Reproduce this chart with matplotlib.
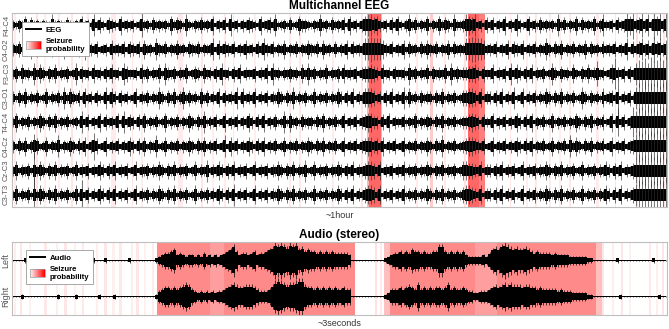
import numpy as np
import matplotlib
matplotlib.use("Agg")
import matplotlib.pyplot as plt
from matplotlib.colors import LinearSegmentedColormap
from matplotlib.patches import Rectangle, Patch
from matplotlib.lines import Line2D
from matplotlib.legend_handler import HandlerBase

plt.rcParams['font.family'] = ['Liberation Sans', 'DejaVu Sans']

# ---------------- data ----------------
eeg_channels = ["F4-C4", "C4-O2", "F3-C3", "C3-O1", "T4-C4", "C4-Cz", "Cz-C3", "C3-T3"]
eeg_minutes = 60.0
# per-cycle amplitude (base-36 digits), ~3 px per char
eeg_amp = [
    ("3243625342" "4327343253" "2436342735" "3254326343" "4238342534"
     "3426354273" "2435343624" "3527342435" "4326345372" "3425236443"
     "2437342534" "3526342467" "7564342536" "3247352436" "2436354273"
     "3476573425" "3524362437" "4236342534" "3427352436" "2534362473"
     "3425348694" "5847396948"),
    ("4352436253" "3425343624" "4353724352" "3426343525" "4352634274"
     "3524363425" "4352434726" "3543524363" "4253743524" "3624352436"
     "4352634252" "4362534377" "8777643524" "3625342536" "4352436253"
     "4377887763" "4352436254" "3624352437" "4253624352" "4362534253"
     "4352437253" "5746385746"),
    ("3526342736" "4253624352" "3725342634" "2536342753" "3426352436"
     "2743524362" "3542634253" "7342536243" "3524362734" "2435342637"
     "3524362435" "2634352455" "6542634253" "3427352436" "2534362735"
     "3445564253" "3624352736" "4253624352" "3742534263" "2536348342"
     "36a4352537" "98a7b89a9b"),
    ("4253624352" "3624352736" "4352634253" "2736425342" "3624352437"
     "4253624735" "3426352436" "2534372634" "3624352436" "4253724352"
     "3624352436" "4253624366" "6534253624" "3726342534" "4253624352"
     "3556653624" "4253624372" "3624352436" "4253624352" "3742534263"
     "453k243527" "a8b9a9b8ab"),
    ("3624352436" "4253624352" "3427352436" "2534362735" "4253624352"
     "3624352436" "4253724352" "3624352436" "4253624352" "3726342534"
     "4253624352" "3624352456" "6442536243" "3524362435" "4253624352"
     "3445654253" "3624352436" "4253624352" "3624352436" "4253624352"
     "36293524a7" "9a8b9a8ba9"),
    ("4253624852" "3624372436" "4253624952" "3624352436" "4253624372"
     "3624352436" "4253624352" "3726352436" "4253624352" "3624352436"
     "4253624352" "3624352456" "6453624352" "3624352436" "4253724352"
     "3456654352" "3624352436" "4253624352" "3624352736" "4253624352"
     "3624352458" "a9b8a9ba8b"),
    ("3624352c36" "4253624352" "3624352436" "4253624352" "3624352436"
     "4253624352" "3624372436" "4253624352" "3624352436" "4253624372"
     "3624352436" "4253624356" "6536243524" "3624352436" "4253624352"
     "3665543624" "4253624352" "3624352436" "4253624352" "3624352436"
     "4253624358" "b9a8b9a9b8"),
    ("3624352c36" "4253624352" "362a352436" "4253624352" "3624352436"
     "4253624352" "3624352436" "4253724352" "3624352436" "4253624352"
     "3624352436" "4253624356" "6536243524" "3624352436" "4253624352"
     "3566543624" "4253624352" "3624352436" "4253624352" "3624352436"
     "4253624357" "a9b8a9ba9b"),
]
# seizure probability segments (minutes)
eeg_prob_start = [0.2, 2.2, 2.95, 4.25, 5.45, 6.35, 6.9, 9.1, 10.95, 11.85, 15.25, 17.35, 18.35,
                  19.45, 20.2, 22.2, 25.4, 26.3, 29.35, 32.0, 32.55, 32.7, 33.8, 37.0, 38.3,
                  39.6, 41.45, 41.8, 42.8, 44.4, 45.6, 47.1, 47.9, 49.2, 50.15, 51.05, 53.5,
                  55.2, 57.2, 58.7, 59.6]
eeg_prob_end = [0.35, 2.4, 3.1, 4.4, 5.6, 6.5, 7.05, 9.5, 11.1, 12.0, 15.65, 17.5, 18.5,
                19.6, 20.35, 22.35, 25.55, 26.45, 29.5, 32.15, 32.7, 33.8, 33.9, 37.15, 38.6,
                39.75, 41.6, 42.8, 43.3, 44.55, 45.75, 47.3, 48.05, 49.35, 50.3, 51.2, 53.8,
                55.35, 57.35, 58.85, 59.8]
eeg_prob_val = [0.08, 0.1, 0.07, 0.08, 0.1, 0.06, 0.09, 0.08, 0.1, 0.07, 0.08, 0.1, 0.07,
                0.08, 0.1, 0.07, 0.08, 0.09, 0.08, 0.1, 0.3, 0.6, 0.3, 0.08, 0.2,
                0.08, 0.12, 0.6, 0.5, 0.08, 0.1, 0.07, 0.09, 0.08, 0.07, 0.09, 0.08,
                0.1, 0.12, 0.08, 0.1]

audio_channels = ["Left", "Right"]
audio_seconds = 3.0
audio_amp = [
    ("0000100000" "0001000010" "0000000100" "0100000001" "0000000012"
     "3445634323" "3232423232" "3456853443" "4534456798" "9879896756"
     "5545454544" "4443000000" "0000012344" "5454655454" "4558854545"
     "4532222232" "4676898767" "6676545444" "4343333222" "2221100000"
     "0001000000" "0000010000"),
    ("0001000000" "0000010000" "0100000001" "0000100000" "0000000013"
     "4554545676" "4323232323" "3456765566" "6543334689" "8767789965"
     "5454545454" "4544000000" "0000012444" "5456547454" "5455457454"
     "4543322333" "4565676766" "6566554544" "4443433322" "2221100000"
     "0000100000" "0000000100"),
]
audio_prob_start = [0.01, 0.035, 0.078, 0.145, 0.2, 0.238, 0.284, 0.32, 0.384, 0.42, 0.458,
                    0.49, 0.545, 0.568, 0.604, 0.64, 0.664, 0.907, 1.662, 1.686, 1.704,
                    1.731, 2.121, 2.675, 2.704, 2.746, 2.79, 2.826, 2.918, 2.95, 2.977]
audio_prob_end = [0.02, 0.045, 0.088, 0.16, 0.212, 0.25, 0.295, 0.332, 0.396, 0.434, 0.47,
                  0.502, 0.556, 0.58, 0.616, 0.652, 1.571, 0.971, 1.674, 1.694, 1.731,
                  2.675, 2.221, 2.702, 2.712, 2.756, 2.8, 2.836, 2.926, 2.96, 2.986]
audio_prob_val = [0.07, 0.1, 0.06, 0.09, 0.07, 0.1, 0.06, 0.09, 0.07, 0.1, 0.06,
                  0.09, 0.07, 0.1, 0.06, 0.08, 0.46, 0.38, 0.12, 0.08, 0.25,
                  0.46, 0.38, 0.25, 0.1, 0.07, 0.1, 0.06, 0.09, 0.07, 0.1]

# ---------------- helpers ----------------
cmap = LinearSegmentedColormap.from_list("wr", ["white", "red"])


def draw_trace(ax, s, T, center, scale, floor, core_frac, cap, lw, spike_color):
    a = np.array([int(c, 36) for c in s], dtype=float) * scale + floor
    n = len(a)
    t = (np.arange(n) + 0.5) / n * T
    core = core_frac * np.minimum(a, cap * np.median(a))
    ax.fill_between(t, center - core, center + core,
                    step='mid', color='black', lw=0, zorder=2)
    ax.vlines(t, center - a, center + a, color=spike_color, lw=lw, zorder=2)


class GradientHandler(HandlerBase):
    def create_artists(self, legend, orig_handle, xdescent, ydescent,
                       width, height, fontsize, trans):
        n = 24
        arts = []
        for i in range(n):
            r = Rectangle((-xdescent + i * width / n, -ydescent), width / n + 0.05, height,
                          facecolor=cmap(i / (n - 1)), edgecolor='none', transform=trans)
            arts.append(r)
        arts.append(Rectangle((-xdescent, -ydescent), width, height, fill=False,
                              edgecolor='#999999', linewidth=0.5, transform=trans))
        return arts


def style_axes(ax, fs):
    for sp in ax.spines.values():
        sp.set_color('#bfbfbf')
        sp.set_linewidth(0.8)
    ax.tick_params(axis='both', length=0, labelsize=fs, labelcolor='#555555', pad=1.5)
    ax.set_xticks([])


def add_legend(ax, label, anchor):
    grad = Patch()
    h = [Line2D([], [], color='black', lw=1.4), grad]
    leg = ax.legend(h, [label, "Seizure\nprobability"], handler_map={grad: GradientHandler()},
                    loc='upper left', bbox_to_anchor=anchor, borderaxespad=0,
                    prop={'size': 5.6, 'weight': 'bold'}, handlelength=2.0, handleheight=1.3,
                    labelspacing=0.45, borderpad=0.45, handletextpad=0.6,
                    fancybox=False, framealpha=1, edgecolor='#9a9a9a')
    leg.get_frame().set_linewidth(0.6)
    leg.set_zorder(10)


# ---------------- figure ----------------
W, H = 669, 329
fig = plt.figure(figsize=(W / 100, H / 100), dpi=100)
ax1 = fig.add_axes([12 / W, 1 - 207 / H, 655 / W, 194 / H])
ax2 = fig.add_axes([12 / W, 1 - 315 / H, 655 / W, 73 / H])

# EEG
nch = len(eeg_channels)
for s0, s1, v in zip(eeg_prob_start, eeg_prob_end, eeg_prob_val):
    ax1.axvspan(s0, s1, color=cmap(v), lw=0, zorder=0)
for i, s in enumerate(eeg_amp):
    draw_trace(ax1, s, eeg_minutes, nch - 0.5 - i, 0.06, 0.03, 0.62, 1.5, 0.45, '#2a2a2a')
ax1.set_xlim(0, eeg_minutes)
ax1.set_ylim(0, nch)
ax1.set_yticks([nch - 0.5 - i for i in range(nch)])
ax1.set_yticklabels(eeg_channels, rotation=90, va='center')
style_axes(ax1, 5.5)
ax1.set_title("Multichannel EEG", fontsize=8.5, fontweight='bold', pad=3)
ax1.set_xlabel("~1hour", fontsize=6.5, color='#333333', labelpad=3)
add_legend(ax1, "EEG", (10 / 655, 1 - 9 / 194))

# Audio
for s0, s1, v in zip(audio_prob_start, audio_prob_end, audio_prob_val):
    ax2.axvspan(s0, s1, color=cmap(v), lw=0, zorder=0)
for i, s in enumerate(audio_amp):
    draw_trace(ax2, s, audio_seconds, 1.5 - i, 0.054, 0.015, 0.8, 100.0, 0.5, 'black')
ax2.set_xlim(0, audio_seconds)
ax2.set_ylim(0, 2)
ax2.set_yticks([1.5, 0.5])
ax2.set_yticklabels(audio_channels, rotation=90, va='center')
style_axes(ax2, 6.5)
ax2.set_title("Audio (stereo)", fontsize=8.5, fontweight='bold', pad=3)
ax2.set_xlabel("~3seconds", fontsize=6.5, color='#333333', labelpad=3)
add_legend(ax2, "Audio", (14 / 655, 1 - 8 / 73))

fig.savefig("out.png", dpi=100)
